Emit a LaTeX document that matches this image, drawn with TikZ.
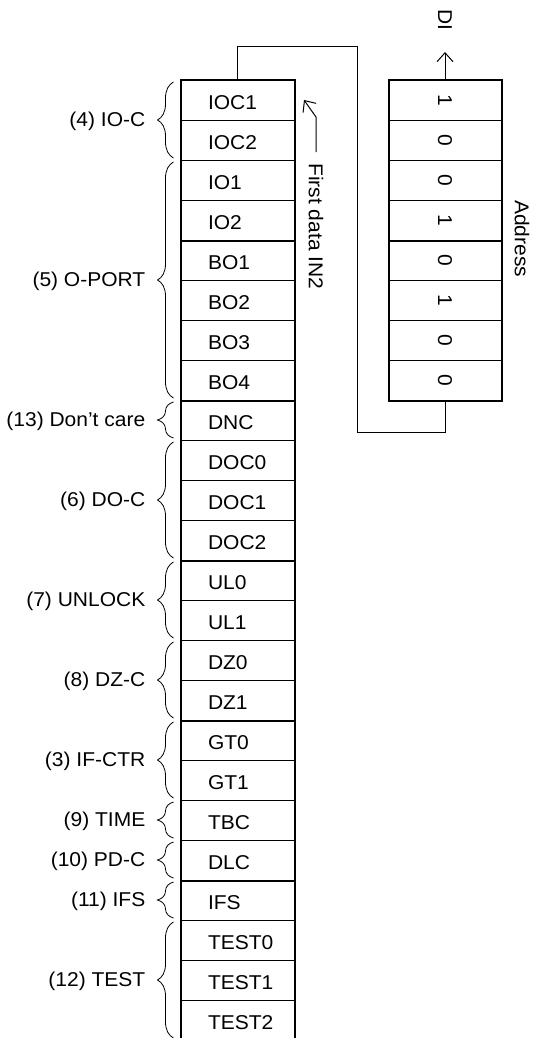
\documentclass[tikz,border=0pt]{standalone}
\usepackage{graphicx}
\usepackage{fontspec}
\setmainfont{Liberation Sans}[FakeStretch=1.05]
\usetikzlibrary{calc,decorations.pathreplacing,arrows.meta}
\tikzset{
    cell/.style={draw,line width=1pt,minimum width=113pt,minimum height=40pt,inner sep=0pt,anchor=north,
        text width=59pt,align=left,text height=18.5pt,text depth=0pt},
    bitcell/.style={draw,line width=1pt,minimum width=112pt,minimum height=40pt,inner sep=0pt,anchor=north},
    heavy/.style={line width=2pt},
    grpbrace/.style={decorate,decoration={brace,amplitude=16pt},line width=0.8pt},
    grplabel/.style={anchor=east,inner sep=0pt},
    barb/.style={-{Straight Barb[length=9pt,width=16pt]},line width=1pt},
}
\hbadness=10000 \hfuzz=100pt

\begin{document}
\begin{tikzpicture}[x=1pt,y=-1pt,font=\fontsize{20pt}{23pt}\selectfont]
                    \useasboundingbox(0,0)rectangle(540,1038);
                    \def\regs{IOC1,IOC2,IO1,IO2,BO1,BO2,BO3,BO4,DNC,DOC0,DOC1,DOC2,UL0,UL1,DZ0,DZ1,GT0,GT1,TBC,DLC,IFS,TEST0,TEST1,TEST2}
                    % register column
                    \foreach \r [count=\i] in \regs {
                        \node[cell](r\i)at(237.5,{80+40*(\i-1)}){\r};
                    }
                    \draw[heavy](r1.north west)rectangle(r24.south east);
                    \foreach \i in {4,8,...,20}{
                        \draw[heavy](r\i.south west)--(r\i.south east);
                    }
                    % groups
                    \foreach \a/\b/\lbl [count=\k] in {1/2/(4) IO-C,3/8/(5) O-PORT,9/9/(13) Don’t care,10/12/(6) DO-C,13/14/(7) UNLOCK,15/16/(8) DZ-C,17/18/(3) IF-CTR,19/19/(9) TIME,20/20/(10) PD-C,21/21/(11) IFS,22/24/(12) TEST}{
                        \draw[grpbrace]([xshift=-7pt,yshift=3pt]r\b.south west)--([xshift=-7pt,yshift=-2pt]r\a.north west);
                        \node[grplabel](g\k)at($(r\a.north west)!0.5!(r\b.south west)+(-35,1)$){\lbl};
                    }
                    % address column
                    \foreach \v [count=\j] in {1,0,0,1,0,1,0,0}{
                        \node[bitcell](b\j)at(445,{80+40*(\j-1)}){\rotatebox{-90}{\v}};
                    }
                    \draw[heavy](b1.north west)rectangle(b8.south east);
                    \draw[heavy](b4.south west)--(b4.south east);
                    \node[rotate=-90,anchor=west,inner sep=0pt](addr)at(522,200){Address};
                    \node[rotate=-90,inner sep=0pt](di)at(445,20){DI};
                    \coordinate(ditip)at(445,52);
                    \draw[barb](b1.north)--(ditip);
                    % loop back
                    \coordinate(turnA)at(357.5,47);
                    \coordinate(turnB)at(357.5,432);
                    \draw[line width=1pt](r1.north)|-(turnA)--(turnB)-|(b8.south);
                    % first data
                    \node[rotate=-90,anchor=west,inner sep=0pt](fd)at(316,163){First data IN2};
                    \coordinate(fdtip)at(304,100);
                    \draw[barb]([yshift=11pt]fd.west)--++(0,-35)--(fdtip);
                \end{tikzpicture}
\end{document}
